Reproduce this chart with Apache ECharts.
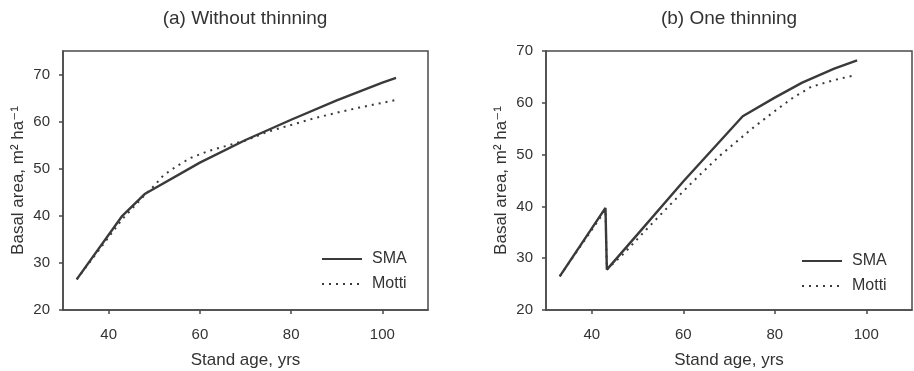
<!DOCTYPE html>
<html>
<head>
<meta charset="utf-8">
<script src="https://cdn.jsdelivr.net/npm/echarts@6/dist/echarts.min.js"></script>
<style>
  html, body { margin: 0; padding: 0; background: #fff; }
  #chart { width: 914px; height: 371px; }
</style>
</head>
<body>
<div id="chart"></div>
<script>
// Panel (a): stand without thinning
const ageSmaA   = [33, 43, 48, 60, 70, 80, 90, 100, 103];
const basalSmaA = [26.5, 40.0, 44.7, 51.3, 56.1, 60.4, 64.5, 68.3, 69.3];
const ageMottiA   = [33, 38, 43, 48, 50, 52, 55, 58, 62, 66, 70, 75, 80, 85, 90, 95, 100, 103];
const basalMottiA = [26.5, 32.9, 39.3, 44.5, 46.4, 48.6, 50.6, 52.3, 53.8, 54.9, 56.0, 57.9, 59.3, 60.7, 61.9, 63.0, 64.0, 64.6];

// Panel (b): stand with one thinning at age 43
const ageSmaB   = [33, 43, 43.3, 50, 60, 73, 80, 86, 93, 98];
const basalSmaB = [26.5, 39.7, 27.8, 34.6, 44.8, 57.4, 61.0, 63.9, 66.6, 68.2];
const ageMottiB   = [33, 43, 43.3, 47, 52, 57, 62, 68, 75, 80, 84, 88, 93, 97.5];
const basalMottiB = [26.5, 39.3, 27.8, 30.9, 35.6, 40.2, 44.7, 49.8, 55.0, 58.4, 61.0, 63.1, 64.4, 65.3];

const xTicks = [40, 60, 80, 100];
const yTicksA = [20, 30, 40, 50, 60, 70];
const yTicksB = [20, 30, 40, 50, 60, 70];

const panelTitles = ['(a) Without thinning', '(b) One thinning'];
const seriesNames = ['SMA', 'Motti'];
const xName = 'Stand age, yrs';
const yName = 'Basal area, m\u00B2 ha\u207B\u00B9';

const pairs = (xs, ys) => xs.map((x, i) => [x, ys[i]]);

const FONT = '"Liberation Sans", Arial, "DejaVu Sans", sans-serif';
const INK = '#3a3a3a';
const TEXT = '#333333';
const AXIS = '#4a4a4a';

function xAxis(gridIndex) {
  return {
    type: 'value', gridIndex, min: 30, max: 110,
    name: xName, nameLocation: 'middle', nameGap: 42,
    nameTextStyle: { fontSize: 17, color: TEXT, fontFamily: FONT },
    axisLine: { show: true, lineStyle: { color: AXIS, width: 1.5 } },
    axisTick: { show: true, inside: false, length: 4, customValues: xTicks,
                lineStyle: { color: AXIS, width: 1.5 } },
    axisLabel: { customValues: xTicks, margin: 17, fontSize: 15, color: TEXT, fontFamily: FONT },
    splitLine: { show: false }
  };
}

function yAxis(gridIndex, max, ticks) {
  return {
    type: 'value', gridIndex, min: 20, max,
    name: yName, nameLocation: 'middle', nameGap: 36,
    nameTextStyle: { fontSize: 17, color: TEXT, fontFamily: FONT },
    axisLine: { show: true, lineStyle: { color: AXIS, width: 1.5 } },
    axisTick: { show: true, inside: false, length: 4, customValues: ticks,
                lineStyle: { color: AXIS, width: 1.5 } },
    axisLabel: { customValues: ticks, margin: 13, fontSize: 15, color: TEXT, fontFamily: FONT },
    splitLine: { show: false }
  };
}

function smaSeries(idx, data) {
  return {
    name: seriesNames[0], type: 'line', xAxisIndex: idx, yAxisIndex: idx,
    data, symbol: 'none', smooth: false, z: 3,
    lineStyle: { color: INK, width: 2.4, type: 'solid' },
    itemStyle: { color: INK }
  };
}
function mottiSeries(idx, data) {
  return {
    name: seriesNames[1], type: 'line', xAxisIndex: idx, yAxisIndex: idx,
    data, symbol: 'none', smooth: false, z: 2,
    lineStyle: { color: INK, width: 2, type: [2, 5] },
    itemStyle: { color: INK }
  };
}

// Legend keys show the line style only (marker hidden)
function legend(left, top) {
  return {
    orient: 'vertical', left, top, itemWidth: 40, itemHeight: 14, itemGap: 9,
    data: seriesNames, selectedMode: false,
    itemStyle: { opacity: 0 },
    textStyle: { fontSize: 16, color: TEXT, fontFamily: FONT, padding: [0, 0, 0, 5] }
  };
}

const chart = echarts.init(document.getElementById('chart'), null, { renderer: 'canvas' });
chart.setOption({
  animation: false,
  backgroundColor: '#ffffff',
  textStyle: { fontFamily: FONT },
  title: [
    { text: panelTitles[0], left: 240, top: 4, textAlign: 'center',
      textStyle: { fontSize: 19, fontWeight: 'normal', color: TEXT, fontFamily: FONT } },
    { text: panelTitles[1], left: 724, top: 4, textAlign: 'center',
      textStyle: { fontSize: 19, fontWeight: 'normal', color: TEXT, fontFamily: FONT } }
  ],
  legend: [legend(316, 246), legend(796, 248)],
  grid: [
    { left: 63, top: 51, width: 365, height: 259, outerBoundsMode: 'none', containLabel: false,
      show: true, borderColor: AXIS, borderWidth: 1.5, backgroundColor: 'transparent' },
    { left: 546, top: 51, width: 366, height: 259, outerBoundsMode: 'none', containLabel: false,
      show: true, borderColor: AXIS, borderWidth: 1.5, backgroundColor: 'transparent' }
  ],
  xAxis: [xAxis(0), xAxis(1)],
  yAxis: [yAxis(0, 75, yTicksA), yAxis(1, 70, yTicksB)],
  series: [
    mottiSeries(0, pairs(ageMottiA, basalMottiA)),
    smaSeries(0, pairs(ageSmaA, basalSmaA)),
    mottiSeries(1, pairs(ageMottiB, basalMottiB)),
    smaSeries(1, pairs(ageSmaB, basalSmaB))
  ]
});
</script>
</body>
</html>
